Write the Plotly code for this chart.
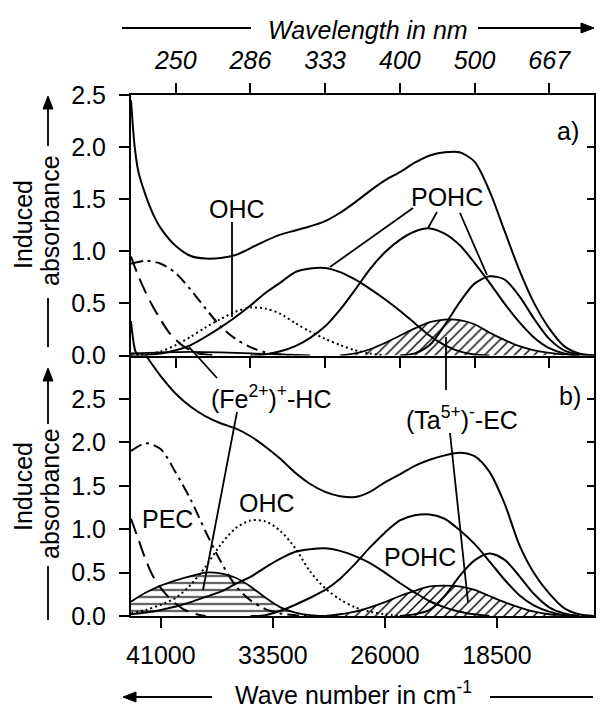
import plotly.graph_objects as go

# ---------------- data (wave numbers in cm-1, induced absorbance) ----------------
# panel a
wn_tot_a = [43000, 42750, 42500, 42000, 41500, 41000, 40000, 39000, 38000, 37000, 36000, 35000,
            34000, 33000, 32000, 31000, 30000, 29000, 28000, 27000, 26000, 25000, 24000, 23000,
            22000, 21000, 20000, 19000, 18000, 17000, 16000, 15000, 14000, 13000, 12000]
tot_a = [2.45, 2.00, 1.76, 1.53, 1.35, 1.22, 1.05, 0.955, 0.93, 0.935, 0.965, 1.03,
         1.10, 1.16, 1.20, 1.24, 1.29, 1.37, 1.47, 1.58, 1.68, 1.76, 1.85, 1.92,
         1.95, 1.95, 1.86, 1.58, 1.20, 0.82, 0.50, 0.26, 0.09, 0.02, 0.0]

wn_dd_a = [43000, 42000, 41000, 40000, 39000, 38000, 37000, 36000, 35000, 34000, 33000, 32000]
dd_a = [0.88, 0.91, 0.88, 0.79, 0.63, 0.45, 0.28, 0.16, 0.08, 0.03, 0.01, 0.0]

wn_ld_a = [43000, 42500, 42000, 41500, 41000, 40500, 40000, 39500, 39000, 38500, 38000, 37000]
ld_a = [0.95, 0.76, 0.60, 0.46, 0.34, 0.23, 0.15, 0.09, 0.05, 0.02, 0.01, 0.0]

wn_edge_a = [43000, 42900, 42800, 42700, 42500]
edge_a = [0.33, 0.20, 0.10, 0.04, 0.0]

wn_dot_a = [43000, 42000, 41000, 40000, 39000, 38000, 37000, 36000, 35000, 34000, 33000, 32000,
            31000, 30000, 29000, 28000, 27000, 26000]
dot_a = [0.0, 0.01, 0.04, 0.10, 0.18, 0.27, 0.35, 0.42, 0.46, 0.45, 0.40, 0.31,
         0.23, 0.16, 0.10, 0.05, 0.02, 0.0]

wn_b4_a = [43000, 42000, 41000, 40000, 39000, 38000, 37000, 36000, 35000, 34000, 33000, 32000,
           31000, 30000, 29000, 28000, 27000, 26000, 25000, 24000, 23000, 22000, 21000, 20000, 19000]
b4_a = [0.0, 0.005, 0.02, 0.05, 0.10, 0.18, 0.27, 0.37, 0.48, 0.60, 0.70, 0.80,
        0.835, 0.84, 0.80, 0.73, 0.64, 0.54, 0.43, 0.31, 0.19, 0.10, 0.04, 0.01, 0.0]

wn_b5_a = [35000, 34000, 33000, 32000, 31000, 30000, 29000, 28000, 27000, 26000, 25000, 24000,
           23000, 22000, 21000, 20000, 19000, 18000, 17000, 16000, 15000, 14000, 13000]
b5_a = [0.0, 0.01, 0.04, 0.09, 0.17, 0.28, 0.44, 0.63, 0.83, 0.99, 1.11, 1.19,
        1.22, 1.17, 1.06, 0.89, 0.70, 0.50, 0.32, 0.17, 0.07, 0.02, 0.0]

wn_b6_a = [25000, 24000, 23000, 22000, 21000, 20000, 19000, 18000, 17000, 16000, 15000, 14000, 13000, 12000]
b6_a = [0.0, 0.02, 0.10, 0.29, 0.51, 0.69, 0.76, 0.73, 0.57, 0.35, 0.16, 0.05, 0.01, 0.0]

wn_ta_a = [29000, 28000, 27000, 26000, 25000, 24000, 23000, 22000, 21000, 20000, 19000, 18000,
           17000, 16000, 15000, 14000, 13000]
ta_a = [0.0, 0.02, 0.06, 0.12, 0.19, 0.26, 0.32, 0.345, 0.34, 0.30, 0.22, 0.15,
        0.09, 0.05, 0.025, 0.01, 0.0]

wn_fe_a = [43000, 41000, 39000, 37000, 35000, 33000, 31000]
fe_a = [0.02, 0.03, 0.035, 0.03, 0.02, 0.01, 0.0]

# panel b
wn_tot_b = [43000, 42000, 41000, 40000, 39000, 38000, 37000, 36000, 35000, 34000, 33000, 32000,
            31000, 30000, 29000, 28000, 27000, 26000, 25000, 24000, 23000, 22000, 21000, 20000,
            19000, 18000, 17000, 16000, 15000, 14000, 13000, 12000]
tot_b = [3.25, 3.00, 2.76, 2.56, 2.41, 2.30, 2.22, 2.16, 2.07, 1.95, 1.81, 1.65,
         1.52, 1.43, 1.38, 1.37, 1.43, 1.54, 1.63, 1.73, 1.80, 1.85, 1.88, 1.84,
         1.66, 1.30, 0.82, 0.49, 0.26, 0.09, 0.02, 0.0]

wn_dd_b = [43000, 42000, 41000, 40000, 39000, 38000, 37000, 36000, 35000, 34000, 33000, 32000, 31000]
dd_b = [1.90, 1.99, 1.92, 1.65, 1.34, 0.97, 0.63, 0.35, 0.18, 0.08, 0.03, 0.01, 0.0]

wn_pec_b = [43000, 42500, 42000, 41500, 41000, 40500, 40000, 39500, 39000, 38500, 38000]
pec_b = [1.12, 0.88, 0.64, 0.45, 0.32, 0.22, 0.14, 0.08, 0.04, 0.015, 0.0]

wn_fe_b = [43000, 42000, 41000, 40000, 39000, 38000, 37000, 36000, 35000, 34000, 33000, 32000, 31000, 30000]
fe_b = [0.165, 0.27, 0.35, 0.41, 0.46, 0.50, 0.49, 0.44, 0.34, 0.21, 0.10, 0.04, 0.01, 0.0]

wn_dot_b = [43000, 42000, 41000, 40000, 39000, 38000, 37000, 36000, 35000, 34000, 33000, 32000,
            31000, 30000, 29000, 28000, 27000, 26000, 25000]
dot_b = [0.03, 0.07, 0.13, 0.21, 0.36, 0.57, 0.82, 1.01, 1.10, 1.09, 0.98, 0.78,
         0.51, 0.32, 0.19, 0.10, 0.05, 0.02, 0.0]

wn_b4_b = [43000, 42000, 41000, 40000, 39000, 38000, 37000, 36000, 35000, 34000, 33000, 32000,
           31000, 30000, 29000, 28000, 27000, 26000, 25000, 24000, 23000, 22000, 21000, 20000, 19000]
b4_b = [0.02, 0.04, 0.07, 0.11, 0.16, 0.22, 0.28, 0.37, 0.45, 0.56, 0.66, 0.74,
        0.77, 0.78, 0.75, 0.69, 0.61, 0.50, 0.38, 0.27, 0.17, 0.10, 0.05, 0.02, 0.0]

wn_b5_b = [35000, 34000, 33000, 32000, 31000, 30000, 29000, 28000, 27000, 26000, 25000, 24000,
           23000, 22000, 21000, 20000, 19000, 18000, 17000, 16000, 15000, 14000, 13000]
b5_b = [0.0, 0.01, 0.06, 0.13, 0.21, 0.30, 0.43, 0.60, 0.79, 0.96, 1.10, 1.16,
        1.17, 1.12, 0.99, 0.83, 0.63, 0.42, 0.24, 0.12, 0.05, 0.01, 0.0]

wn_b6_b = [25000, 24000, 23000, 22000, 21000, 20000, 19000, 18000, 17000, 16000, 15000, 14000, 13000]
b6_b = [0.0, 0.02, 0.07, 0.23, 0.46, 0.64, 0.72, 0.65, 0.46, 0.25, 0.10, 0.03, 0.0]

wn_ta_b = [30000, 29000, 28000, 27000, 26000, 25000, 24000, 23000, 22000, 21000, 20000, 19000,
           18000, 17000, 16000, 15000, 14000, 13000]
ta_b = [0.0, 0.02, 0.05, 0.10, 0.16, 0.23, 0.29, 0.34, 0.35, 0.34, 0.30, 0.23,
        0.16, 0.10, 0.05, 0.02, 0.01, 0.0]

# axes
wn_range = [43000, 12000]
bottom_ticks = [41000, 33500, 26000, 18500]
bottom_labels = ["41000", "33500", "26000", "18500"]
top_ticks = [40000, 35000, 30000, 25000, 20000, 15000]
top_labels = ["250", "286", "333", "400", "500", "667"]
y_ticks = [0.0, 0.5, 1.0, 1.5, 2.0, 2.5]

FONT = "Liberation Sans, Arial, Helvetica, sans-serif"
FS = 25
K = "black"

fig = go.Figure()

DASHDOT = "12px,5px,3px,5px"
LONGDASH = "16px,8px"
DOT = "2px,3px"


def line(x, y, xa, ya, dash="solid", width=2):
    fig.add_trace(go.Scatter(x=x, y=y, xaxis=xa, yaxis=ya, mode="lines",
                             line=dict(color=K, width=width, dash=dash, shape="spline", smoothing=0.8),
                             showlegend=False, hoverinfo="skip"))


def hatch(x, y, xa, ya, shape):
    fig.add_trace(go.Scatter(x=x, y=y, xaxis=xa, yaxis=ya, mode="lines", fill="tozeroy",
                             fillpattern=dict(shape=shape, size=7, solidity=0.2, fgcolor=K,
                                              bgcolor="rgba(0,0,0,0)", fillmode="replace"),
                             fillcolor="rgba(0,0,0,0)",
                             line=dict(color=K, width=1.8, shape="spline", smoothing=0.8),
                             showlegend=False, hoverinfo="skip"))


# panel a (x2, y)
hatch(wn_ta_a, ta_a, "x2", "y", "/")
hatch(wn_fe_a, fe_a, "x2", "y", "-")
line(wn_dd_a, dd_a, "x2", "y", DASHDOT)
line(wn_ld_a, ld_a, "x2", "y", LONGDASH)
line(wn_edge_a, edge_a, "x2", "y")
line(wn_dot_a, dot_a, "x2", "y", DOT)
line(wn_b4_a, b4_a, "x2", "y")
line(wn_b5_a, b5_a, "x2", "y")
line(wn_b6_a, b6_a, "x2", "y")
line(wn_tot_a, tot_a, "x2", "y")

# panel b (x, y2)
hatch(wn_ta_b, ta_b, "x", "y2", "/")
hatch(wn_fe_b, fe_b, "x", "y2", "-")
line(wn_dd_b, dd_b, "x", "y2", DASHDOT)
line(wn_pec_b, pec_b, "x", "y2", LONGDASH)
line(wn_dot_b, dot_b, "x", "y2", DOT)
line(wn_b4_b, b4_b, "x", "y2")
line(wn_b5_b, b5_b, "x", "y2")
line(wn_b6_b, b6_b, "x", "y2")
line(wn_tot_b, tot_b, "x", "y2")

# helper traces so that the extra axes are drawn
for xa, ya in [("x3", "y"), ("x2", "y3"), ("x", "y4")]:
    fig.add_trace(go.Scatter(x=[None], y=[None], xaxis=xa, yaxis=ya, mode="lines",
                             showlegend=False, hoverinfo="skip"))

axcommon = dict(showgrid=False, zeroline=False, showline=True, linecolor=K, linewidth=2,
                tickcolor=K, tickwidth=1.8, tickfont=dict(family=FONT, size=FS, color=K))

L, R, T, B = 131, 6, 95, 91
W, H = 600, 707
PW, PH = W - L - R, H - T - B


def P(px, py):
    return (px - L) / PW, (H - B - py) / PH


fig.update_layout(
    width=W, height=H, margin=dict(l=L, r=R, t=T, b=B),
    paper_bgcolor="white", plot_bgcolor="white",
    font=dict(family=FONT, size=FS, color=K),
    xaxis=dict(domain=[0, 1], anchor="y2", range=wn_range, tickvals=bottom_ticks,
               ticktext=bottom_labels, ticks="outside", ticklen=10, ticklabelstandoff=6, **axcommon),
    xaxis2=dict(domain=[0, 1], anchor="y", range=wn_range, tickvals=top_ticks,
                showticklabels=False, ticks="outside", ticklen=10, **axcommon),
    xaxis3=dict(overlaying="x2", anchor="y", side="top", range=wn_range, tickvals=top_ticks,
                ticktext=top_labels, ticks="outside", ticklen=10, ticklabelstandoff=4,
                **{**axcommon, "tickfont": dict(family=FONT, size=FS, color=K, style="italic")}),
    yaxis=dict(domain=[0.5, 1], anchor="x2", range=[0, 2.5], tickvals=y_ticks, tickformat=".1f",
               ticks="outside", ticklen=10, ticklabelstandoff=8, **axcommon),
    yaxis2=dict(domain=[0, 0.5], anchor="x", range=[0, 3.0], tickvals=y_ticks, tickformat=".1f",
                ticks="outside", ticklen=10, ticklabelstandoff=8, **axcommon),
    yaxis3=dict(overlaying="y", anchor="x2", side="right", range=[0, 2.5], tickvals=[0.5, 1.0, 1.5, 2.0],
                showticklabels=False, ticks="inside", ticklen=7, **axcommon),
    yaxis4=dict(overlaying="y2", anchor="x", side="right", range=[0, 3.0],
                tickvals=[0.5, 1.0, 1.5, 2.0, 2.5],
                showticklabels=False, ticks="inside", ticklen=7, **axcommon),
)

shapes = []
annots = []


def seg(p1, p2, w=1.8):
    x0, y0 = P(*p1)
    x1, y1 = P(*p2)
    shapes.append(dict(type="line", xref="paper", yref="paper", x0=x0, y0=y0, x1=x1, y1=y1,
                       line=dict(color=K, width=w), layer="above"))


def tri(p1, p2, p3):
    pts = [P(*p) for p in (p1, p2, p3)]
    path = "M {:.5f},{:.5f} L {:.5f},{:.5f} L {:.5f},{:.5f} Z".format(
        pts[0][0], pts[0][1], pts[1][0], pts[1][1], pts[2][0], pts[2][1])
    shapes.append(dict(type="path", xref="paper", yref="paper", path=path,
                       fillcolor=K, line=dict(color=K, width=1), layer="above"))


def text(s, px, py, angle=0, italic=False, size=FS):
    x, y = P(px, py)
    annots.append(dict(text=s, x=x, y=y, xref="paper", yref="paper", showarrow=False,
                       xanchor="center", yanchor="middle", textangle=angle,
                       font=dict(family=FONT, size=size, color=K,
                                 style="italic" if italic else "normal")))


# top title with arrow (pointing right)
text("Wavelength in nm", 368, 30, italic=True)
seg((122, 28), (251, 28))
seg((478, 28), (583, 28))
tri((594, 28), (581, 23), (581, 33))

# bottom title with arrow (pointing left)
text("Wave number in cm<sup>-1</sup>", 353, 693)
tri((123, 697), (136, 692), (136, 702))
seg((134, 697), (212, 697))
seg((490, 697), (593, 697))

# y titles with upward arrows
for cy, c2, tip, l1, l2 in [(225, 221, 96, 146, (298, 347)), (487, 494, 368, 424, (566, 620))]:
    text("Induced", 23, cy, angle=-90)
    text("absorbance", 50, c2, angle=-90)
    tri((48, tip), (43, tip + 13), (53, tip + 13))
    seg((48, tip + 11), (48, l1))
    seg((48, l2[0]), (48, l2[1]))

# panel labels
text("a)", 568, 131)
text("b)", 570, 396)
text("OHC", 237, 209)
text("POHC", 447, 197)
text("(Fe<sup>2+</sup>)<sup>+</sup>-HC", 271, 397)
text("(Ta<sup>5+</sup>)<sup>-</sup>-EC", 462, 418)
text("OHC", 267, 503)
text("PEC", 167, 519)
text("POHC", 420, 557)

# label leader lines
seg((232, 222), (232, 317))
seg((413, 208), (330, 267))
seg((437, 212), (428, 228))
seg((460, 213), (487, 275))
seg((446, 337), (446, 390))
seg((450, 433), (468, 602))
seg((217, 378), (189, 347))
seg((237, 412), (203, 590))

fig.update_layout(shapes=shapes, annotations=annots)

fig.write_html("out.html")
